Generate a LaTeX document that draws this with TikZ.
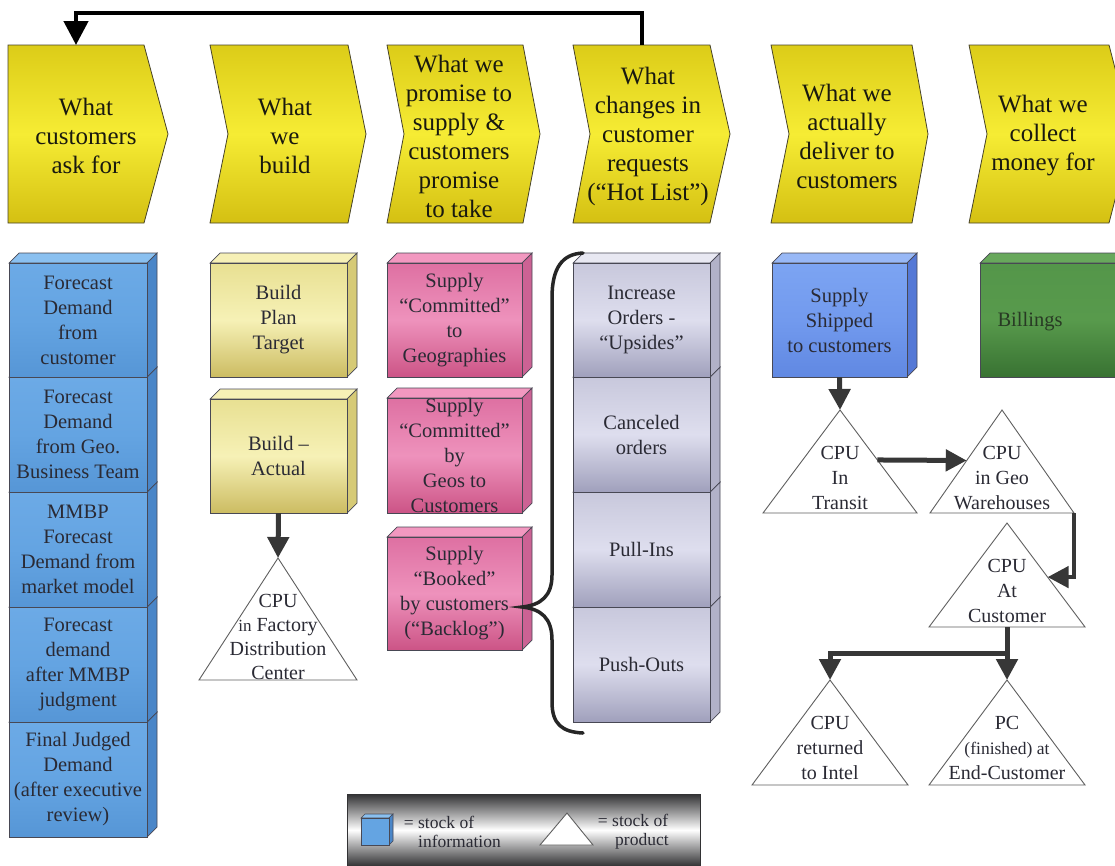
\documentclass[tikz,border=0pt]{standalone}
\usepackage{fontspec}
\setmainfont{Liberation Serif}
\newfontfamily\labelfont{Liberation Serif}
\usetikzlibrary{arrows.meta,calc}

% palette
\definecolor{chevtop}{RGB}{220,204,24}
\definecolor{chevmid}{RGB}{246,236,52}
\definecolor{chevbot}{RGB}{212,192,18}
\definecolor{chevline}{RGB}{70,66,40}
\definecolor{bluetop}{RGB}{108,170,230}
\definecolor{bluemid}{RGB}{100,164,226}
\definecolor{bluebot}{RGB}{86,150,214}
\definecolor{blueside}{RGB}{74,134,200}
\definecolor{bluelid}{RGB}{138,192,240}
\definecolor{shiptop}{RGB}{124,164,242}
\definecolor{shipmid}{RGB}{114,154,238}
\definecolor{shipbot}{RGB}{96,136,226}
\definecolor{shipside}{RGB}{84,120,214}
\definecolor{shiplid}{RGB}{152,184,246}
\definecolor{beigetop}{RGB}{232,224,146}
\definecolor{beigemid}{RGB}{246,241,182}
\definecolor{beigebot}{RGB}{204,188,98}
\definecolor{beigeside}{RGB}{214,202,118}
\definecolor{beigelid}{RGB}{246,240,182}
\definecolor{pinktop}{RGB}{222,112,162}
\definecolor{pinkmid}{RGB}{238,146,188}
\definecolor{pinkbot}{RGB}{204,84,134}
\definecolor{pinkside}{RGB}{204,98,148}
\definecolor{pinklid}{RGB}{242,152,192}
\definecolor{greytop}{RGB}{200,200,220}
\definecolor{greymid}{RGB}{222,222,238}
\definecolor{greybot}{RGB}{160,160,188}
\definecolor{greyside}{RGB}{178,178,200}
\definecolor{greylid}{RGB}{232,232,242}
\definecolor{greentop}{RGB}{84,150,74}
\definecolor{greenmid}{RGB}{88,154,76}
\definecolor{greenbot}{RGB}{56,114,50}
\definecolor{greenside}{RGB}{60,120,55}
\definecolor{greenlid}{RGB}{104,168,92}
\definecolor{edge}{RGB}{72,72,84}
\definecolor{txtdark}{RGB}{25,25,15}
\definecolor{txtbox}{RGB}{42,42,52}
\definecolor{txtgreen}{RGB}{40,58,36}
\definecolor{flowgrey}{RGB}{55,55,55}
\definecolor{triline}{RGB}{95,95,95}
\definecolor{legdark}{RGB}{50,50,52}

\tikzset{
  chev/.style={draw=chevline, line width=0.8pt, top color=chevtop, bottom color=chevbot, middle color=chevmid},
  chevtext/.style={align=center, inner sep=0pt, text=txtdark, font=\labelfont\fontsize{25}{29}\selectfont},
  boxtext/.style={align=center, inner sep=0pt, text=txtbox, font=\labelfont\fontsize{20.5}{25}\selectfont},
  tri/.style={draw=triline, line width=0.9pt, fill=white},
  tritext/.style={align=center, inner sep=0pt, text=txtbox, font=\labelfont\fontsize{20}{25}\selectfont},
  legtext/.style={align=left, inner sep=0pt, text=txtbox, font=\labelfont\fontsize{17.5}{19}\selectfont},
  flow/.style={draw=flowgrey, line width=5pt, -{Triangle[width=21pt,length=21pt]}},
  loopback/.style={draw=black, line width=4.5pt, -{Triangle[width=24pt,length=24pt]}},
  bracket/.style={draw=black!85, line width=3.5pt, line cap=round},
}

% stage header: name, left x, notch x, top-right x, tip x, text x, text
\newcommand\chevron[7]{%
  \path[chev] (#2,45) -- (#4,45) -- (#5,134) -- (#4,223) -- (#2,223) -- (#3,134) -- cycle;
  \node[chevtext] (#1) at (#6,136) {#7};
}

% stock of information: name, x1, top y, x2, bottom y, colour family, text
\newcommand\cubebox[7]{%
  \filldraw[fill=#6lid, draw=edge, line width=0.7pt] (#2,#3) -- ({#2+10},{#3-10}) -- ({#4+10},{#3-10}) -- (#4,#3) -- cycle;
  \filldraw[fill=#6side, draw=edge, line width=0.7pt] (#4,#3) -- ({#4+10},{#3-10}) -- ({#4+10},{#5-10}) -- (#4,#5) -- cycle;
  \path[draw=edge, line width=0.7pt, top color=#6top, bottom color=#6bot, middle color=#6mid] (#2,#3) rectangle (#4,#5);
  \node[boxtext, minimum width={(#4-#2)*1pt}, minimum height={(#5-#3)*1pt}] (#1) at ({(#2+#4)/2},{(#3+#5)/2}) {#7};
}

% stock of product: name, apex x, apex y, half base, base y, text y, text
\newcommand\stocktri[7]{%
  \coordinate (#1-a) at (#2,#3);
  \coordinate (#1-l) at ({#2-#4},#5);
  \coordinate (#1-r) at ({#2+#4},#5);
  \coordinate (#1-b) at (#2,#5);
  \draw[tri] (#1-a) -- (#1-l) -- (#1-r) -- cycle;
  \node[tritext] (#1) at (#2,#6) {#7};
}

\begin{document}
\begin{tikzpicture}[x=1pt,y=-1pt]
\useasboundingbox (0,0) rectangle (1115,865);
\clip (0,0) rectangle (1115,865);

% ---- stage headers ----
\chevron{ch1}{8}{8}{144}{168}{86}{What\\customers\\ask for}
\chevron{ch2}{210}{228}{348}{366}{285}{What\\we\\build}
\chevron{ch3}{387}{404}{523}{540}{459}{What we\\promise to\\supply \&\\customers\\promise\\to take}
\chevron{ch4}{573}{590}{710}{730}{648}{What\\changes in\\customer\\requests\\(“Hot List”)}
\chevron{ch5}{771}{789}{912}{928}{847}{What we\\actually\\deliver to\\customers}
\chevron{ch6}{969}{987}{1109}{1132}{1043}{What we\\collect\\money for}

% feedback from the hot list to customer requests
\coordinate (ch1-top) at (76,45);
\coordinate (ch4-top) at (642,45);
\draw[loopback] (ch4-top) -- ++(0,-32) -| (ch1-top);

% ---- demand column ----
\cubebox{dem5}{9}{722}{147}{837}{blue}{Final Judged\\Demand\\(after executive\\review)}
\cubebox{dem4}{9}{607}{147}{722}{blue}{Forecast\\demand\\after MMBP\\judgment}
\cubebox{dem3}{9}{492}{147}{607}{blue}{MMBP\\Forecast\\Demand from\\market model}
\cubebox{dem2}{9}{377}{147}{492}{blue}{Forecast\\Demand\\from Geo.\\Business Team}
\cubebox{dem1}{9}{263}{147}{377}{blue}{Forecast\\Demand\\from\\customer}

% ---- build column ----
\cubebox{bplan}{210}{263}{347}{377}{beige}{Build\\Plan\\Target}
\cubebox{bact}{210}{399}{347}{513}{beige}{Build –\\Actual}
\stocktri{tfac}{278}{558}{79}{680}{637}{CPU\\[-1pt]{\fontsize{17}{24}\selectfont in} Factory\\[-1pt]Distribution\\[-1pt]Center}

% ---- commitment column ----
\cubebox{sgeo}{387}{263}{522}{377}{pink}{Supply\\“Committed”\\to\\Geographies}
\cubebox{scust}{387}{398}{522}{513}{pink}{Supply\\“Committed”\\by\\Geos to\\Customers}
\cubebox{sbook}{387}{537}{522}{650}{pink}{Supply\\“Booked”\\by customers\\(“Backlog”)}

% ---- hot list column ----
\cubebox{hpush}{573}{607}{710}{722}{grey}{Push-Outs}
\cubebox{hpull}{573}{492}{710}{607}{grey}{Pull-Ins}
\cubebox{hcanc}{573}{377}{710}{492}{grey}{Canceled\\orders}
\cubebox{hup}{573}{263}{710}{377}{grey}{Increase\\Orders -\\“Upsides”}

\draw[bracket] (583,253) .. controls (562,254) and (552,268) .. (552,298) -- (552,575)
  .. controls (552,596) and (541,605) .. (522,607)
  .. controls (541,609) and (552,618) .. (552,640) -- (552,702)
  .. controls (552,724) and (562,732) .. (583,733);

% ---- delivery and billing ----
\cubebox{ship}{772}{263}{907}{377}{ship}{Supply\\Shipped\\to customers}
\cubebox{bill}{980}{263}{1125}{377}{green}{}
\node[boxtext, text=txtgreen] (billtxt) at (1030,322) {Billings};

\stocktri{ttr}{840}{410}{77}{513}{478}{CPU\\In\\Transit}
\stocktri{tgeo}{1002}{410}{72}{513}{478}{CPU\\in Geo\\Warehouses}
\stocktri{tcus}{1007}{523}{78}{627}{591}{CPU\\At\\Customer}
\stocktri{tret}{830}{680}{78}{785}{748}{CPU\\returned\\to Intel}
\stocktri{tpc}{1007}{680}{78}{785}{748}{PC\\{\fontsize{17.5}{25}\selectfont (finished) at}\\End-Customer}

% ---- product flow ----
\draw[flow] (bact.south) -- (tfac-a);
\draw[flow] (ship.south) -- (ttr-a);
\coordinate (ttr-e) at ($(ttr-a)!0.485!(ttr-r)$);
\coordinate (tgeo-e) at ($(tgeo-a)!0.49!(tgeo-l)$);
\draw[flow] (ttr-e) -- (tgeo-e);
\coordinate (tcus-e) at ($(tcus-a)!0.52!(tcus-r)$);
\draw[flow, line width=4.5pt] (tgeo-r) |- (tcus-e);
\draw[flow] (tcus-b) -- (tpc-a);
\draw[flow] (tcus-b) -- ++(0,26) -| (tret-a);

% ---- legend ----
\path[draw=legdark, line width=0.6pt, top color=legdark, bottom color=legdark, middle color=white] (347,794) rectangle (700,866);
\filldraw[fill=bluelid, draw=edge, line width=0.6pt] (361,818) -- (365,814) -- (393,814) -- (389,818) -- cycle;
\filldraw[fill=blueside, draw=edge, line width=0.6pt] (389,818) -- (393,814) -- (393,841) -- (389,845) -- cycle;
\filldraw[fill=bluemid, draw=edge, line width=0.6pt] (361,818) rectangle (389,845);
\node[inner sep=0pt, minimum width=28pt, minimum height=27pt] (legcube) at (375,831.5) {};
\node[legtext, anchor=west] (leginfo) at (418,832) {\llap{= }stock of\\information};
\coordinate (legtri-a) at (567,813);
\coordinate (legtri-l) at (540,845);
\coordinate (legtri-r) at (593,845);
\draw[tri] (legtri-a) -- (legtri-l) -- (legtri-r) -- cycle;
\node[legtext, anchor=west] (legprod) at (612,832) {\llap{= }stock of\\\hspace{3pt}product};
\end{tikzpicture}
\end{document}
